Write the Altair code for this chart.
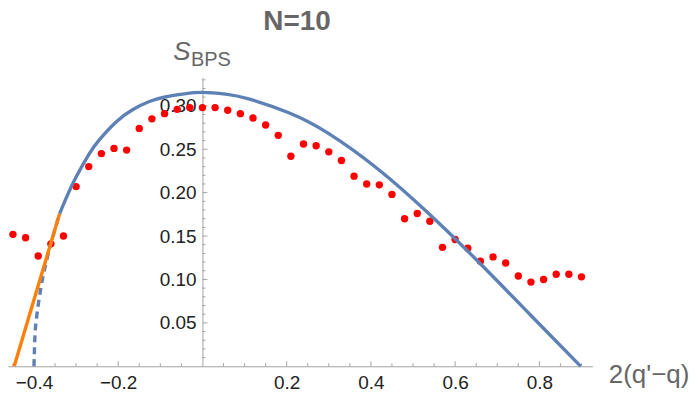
import altair as alt
import pandas as pd

# ---- data ----
dot_x = [-0.45, -0.42, -0.39, -0.36, -0.33, -0.30, -0.27, -0.24, -0.21, -0.18,
         -0.15, -0.12, -0.09, -0.06, -0.03, 0.00, 0.03, 0.06, 0.09, 0.12,
         0.15, 0.18, 0.21, 0.24, 0.27, 0.30, 0.33, 0.36, 0.39, 0.42,
         0.45, 0.48, 0.51, 0.54, 0.57, 0.60, 0.63, 0.66, 0.69, 0.72,
         0.75, 0.78, 0.81, 0.84, 0.87, 0.90]
dot_y = [0.152, 0.148, 0.127, 0.141, 0.150, 0.207, 0.230, 0.245, 0.251, 0.249,
         0.274, 0.285, 0.291, 0.296, 0.298, 0.298, 0.298, 0.295, 0.291, 0.286,
         0.278, 0.266, 0.242, 0.256, 0.254, 0.247, 0.237, 0.219, 0.210, 0.209,
         0.198, 0.170, 0.176, 0.167, 0.137, 0.146, 0.136, 0.121, 0.126, 0.119,
         0.104, 0.097, 0.100, 0.106, 0.106, 0.103]

curve_x = [-0.339, -0.32, -0.30, -0.27, -0.244, -0.205, -0.166, -0.126, -0.086, -0.043,
           0.0, 0.055, 0.11, 0.205, 0.30, 0.418, 0.536, 0.654, 0.776, 0.898]
curve_y = [0.176, 0.1977, 0.218, 0.2438, 0.2613, 0.2815, 0.2955, 0.305, 0.3105, 0.3138,
           0.3155, 0.3135, 0.308, 0.292, 0.268, 0.2267, 0.1765, 0.121, 0.0605, 0.0]

dash_x = [-0.339, -0.35, -0.36, -0.37, -0.38, -0.388, -0.394, -0.398, -0.40]
dash_y = [0.176, 0.158, 0.141, 0.122, 0.100, 0.077, 0.055, 0.032, 0.0]

orange_x = [-0.447, -0.339]
orange_y = [0.0, 0.176]

x_major = [-0.4, -0.2, 0.2, 0.4, 0.6, 0.8]
y_major = [0.05, 0.10, 0.15, 0.20, 0.25, 0.30]
x_minor = [-0.45, -0.35, -0.3, -0.25, -0.15, -0.1, -0.05, 0.05, 0.1, 0.15,
           0.25, 0.3, 0.35, 0.45, 0.5, 0.55, 0.65, 0.7, 0.75, 0.85, 0.9]
y_minor = [v / 100 for v in range(1, 34) if v % 5 != 0]

# ---- styling ----
AX = "#a3a3a3"
BLUE = "#5E81B5"
ORANGE = "#FF7F0A"
FONT = "Liberation Sans"

xs = alt.Scale(domain=[-0.4617, 0.926], nice=False, zero=False)
ys = alt.Scale(domain=[0, 0.3326], nice=False, zero=False)

x_axis = alt.Axis(
    values=x_major, format=".1f", title="2(q'\u2212q)", grid=False, ticks=False,
    tickSize=0, labelPadding=7, labelFontSize=19, labelFont=FONT, labelColor="#222",
    domainColor=AX, domainWidth=1, labelOverlap=False, labelFlush=False,
    titleX=603, titleY=16, titleAlign="left", titleBaseline="alphabetic",
    titleFontSize=26, titleFont=FONT, titleFontWeight="normal", titleColor="#666")
y_axis = alt.Axis(
    values=y_major, format=".2f", title="", grid=False, ticks=False, tickSize=0,
    labelPadding=6.5, labelFontSize=19, labelFont=FONT, labelColor="#222",
    domainColor=AX, domainWidth=1, offset=-195.3, labelOverlap=False,
    labelFlush=False)


def X(field):
    return alt.X(field, scale=xs, axis=x_axis)


def Y(field):
    return alt.Y(field, scale=ys, axis=y_axis)


dots = alt.Chart(pd.DataFrame({"x": dot_x, "y": dot_y})).mark_circle(
    size=55, color="#FF0000", opacity=1
).encode(x=X("x:Q"), y=Y("y:Q"))


def line_layer(xv, yv, color, interp, dash=None):
    mk = dict(color=color, strokeWidth=3.4, interpolate=interp)
    if dash:
        mk["strokeDash"] = dash
    return alt.Chart(pd.DataFrame({"x": xv, "y": yv})).mark_line(**mk).encode(
        x=X("x:Q"), y=Y("y:Q"))


dashed = line_layer(dash_x, dash_y, BLUE, "monotone", [7, 5])
orange = line_layer(orange_x, orange_y, ORANGE, "linear")
solid = line_layer(curve_x, curve_y, BLUE, "natural")


def xticks(vals, size):
    return alt.Chart(pd.DataFrame({"x": vals})).mark_tick(
        orient="vertical", size=size, thickness=1, color=AX, yOffset=-size / 2, opacity=1
    ).encode(x=X("x:Q"), y=alt.YDatum(0, scale=ys, axis=y_axis))


def yticks(vals, size):
    return alt.Chart(pd.DataFrame({"y": vals})).mark_tick(
        orient="horizontal", size=size, thickness=1, color=AX, xOffset=size / 2, opacity=1
    ).encode(y=Y("y:Q"), x=alt.XDatum(0, scale=xs, axis=x_axis))


def label(txt, x, y, size, **kw):
    return alt.Chart(pd.DataFrame({"t": [txt]})).mark_text(
        baseline="alphabetic", fontSize=size, font=FONT, color="#666", **kw
    ).encode(text="t:N", x=alt.value(x), y=alt.value(y))


s_label = label("S", 166, -18, 26, align="left", fontStyle="italic")
bps_label = label("BPS", 183.7, -12, 20, align="left")
title_label = label("N=10", 290.3, -48, 28, align="center", fontWeight="bold")

chart = alt.layer(
    xticks(x_minor, 3), xticks(x_major, 5), yticks(y_minor, 3), yticks(y_major, 5),
    dots, dashed, orange, solid, s_label, bps_label, title_label,
).properties(
    width=587, height=290,
    autosize=alt.AutoSizeParams(type="none"),
    padding={"left": 0, "top": 69, "right": 98, "bottom": 28},
    background="white",
).configure_view(stroke=None)

chart.save("out.html", embed_options={"renderer": "svg", "actions": False})
